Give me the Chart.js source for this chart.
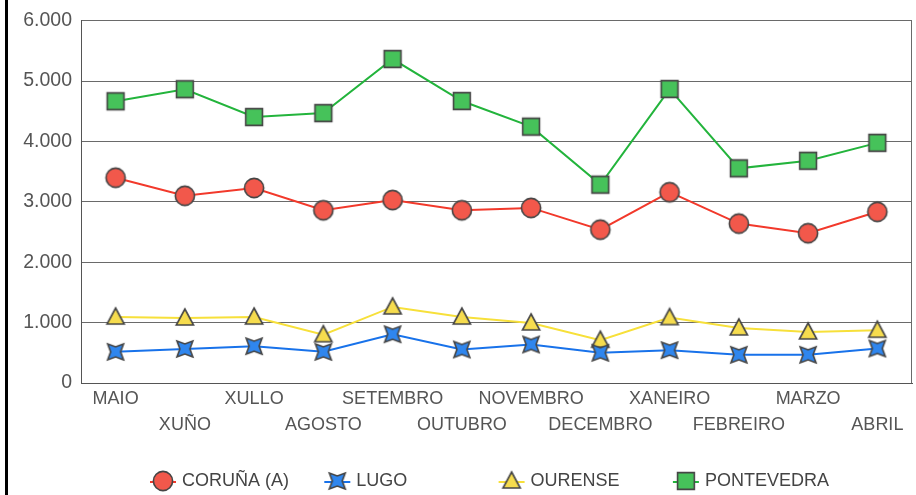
<!DOCTYPE html>
<html>
<head>
<meta charset="utf-8">
<script src="https://cdn.jsdelivr.net/npm/chart.js@4/dist/chart.umd.min.js"></script>
<style>
  html, body { margin: 0; padding: 0; background: #fff; }
  #wrap { position: absolute; left: 5px; top: 0; width: 908px; height: 495px; border-left: 3px solid #000; }
</style>
</head>
<body>
<div id="wrap"><canvas id="chart" width="908" height="495"></canvas></div>
<script>
var months = ["MAIO", "XUÑO", "XULLO", "AGOSTO", "SETEMBRO", "OUTUBRO", "NOVEMBRO", "DECEMBRO", "XANEIRO", "FEBREIRO", "MARZO", "ABRIL"];
var coruna = [3400, 3100, 3230, 2860, 3030, 2860, 2900, 2540, 3160, 2640, 2480, 2835];
var lugo = [516, 565, 610, 516, 808, 555, 638, 500, 544, 467, 467, 572];
var ourense = [1093, 1077, 1093, 800, 1260, 1093, 995, 709, 1083, 912, 846, 874];
var pontevedra = [4665, 4865, 4405, 4470, 5365, 4670, 4245, 3285, 4868, 3555, 3680, 3977];
var yTicks = [0, 1000, 2000, 3000, 4000, 5000, 6000];

// alternate the month labels on two rows
var xLabels = months.map(function(m, i) { return i % 2 ? ["", m] : [m]; });

var markEdge = "#454545";

function marker(kind, fill) {
    var c = document.createElement("canvas");
    c.width = 24; c.height = 24;
    var g = c.getContext("2d");
    var cx = 12, cy = 12;
    g.fillStyle = fill;
    g.strokeStyle = markEdge;
    g.lineWidth = 1.6;
    g.beginPath();
    if (kind == "circle") {
        g.arc(cx, cy, 9.6, 0, Math.PI * 2);
    } else if (kind == "square") {
        g.rect(cx - 8.4, cy - 8.4, 16.8, 16.8);
    } else if (kind == "triangle") {
        g.moveTo(cx, cy - 9);
        g.lineTo(cx + 8.6, cy + 7);
        g.lineTo(cx - 8.6, cy + 7);
        g.closePath();
    } else {
        // four pointed star, points on the diagonals
        var R = 11.2, r = 5;
        for (var i = 0; i < 8; i++) {
            var a = Math.PI / 4 + i * Math.PI / 4;
            var rr = i % 2 ? r : R;
            var px = cx + Math.cos(a) * rr, py = cy + Math.sin(a) * rr;
            if (i == 0) g.moveTo(px, py); else g.lineTo(px, py);
        }
        g.closePath();
    }
    g.fill();
    g.stroke();
    return c;
}

var redDot = marker("circle", "#F2584B");
var blueStar = marker("star", "#2F86EE");
var yellowTri = marker("triangle", "#F6DC4E");
var greenSq = marker("square", "#46C25A");

function series(label, values, line, img) {
    return {
        label: label,
        data: values,
        borderColor: line,
        backgroundColor: line,
        borderWidth: 2,
        pointStyle: img,
        pointRadius: 10,
        pointHoverRadius: 10,
        tension: 0
    };
}

// legend on fixed columns with the line through the marker
var columnLegend = {
    id: "columnLegend",
    afterDraw: function(chart) {
        var ctx = chart.ctx;
        var y = chart.height - 14;
        ctx.save();
        ctx.font = "18px 'Liberation Sans', Arial, sans-serif";
        ctx.fillStyle = "#444";
        ctx.textBaseline = "middle";
        chart.data.datasets.forEach(function(ds, i) {
            var x = 155 + i * 174.3;
            ctx.strokeStyle = ds.borderColor;
            ctx.lineWidth = 2;
            ctx.beginPath();
            ctx.moveTo(x - 13, y + 1);
            ctx.lineTo(x + 13, y + 1);
            ctx.stroke();
            ctx.drawImage(ds.pointStyle, x - 12, y - 12);
            ctx.fillText(ds.label, x + 19, y);
        });
        ctx.restore();
    }
};

var frame = {
    id: "frame",
    beforeDatasetsDraw: function(chart) {
        var a = chart.chartArea, ctx = chart.ctx;
        ctx.save();
        ctx.strokeStyle = "#6a6a6a";
        ctx.lineWidth = 1;
        ctx.beginPath();
        ctx.moveTo(Math.round(a.right) - 0.5, a.top);
        ctx.lineTo(Math.round(a.right) - 0.5, a.bottom);
        ctx.stroke();
        ctx.restore();
    }
};

var ctx = document.getElementById("chart").getContext("2d");
window.myLine = new Chart(ctx, {
    type: "line",
    data: {
        labels: xLabels,
        datasets: [
            series("CORUÑA (A)", coruna, "#F2392B", redDot),
            series("LUGO", lugo, "#1872EA", blueStar),
            series("OURENSE", ourense, "#F7E03A", yellowTri),
            series("PONTEVEDRA", pontevedra, "#23B43C", greenSq)
        ]
    },
    options: {
        responsive: false,
        animation: false,
        layout: { autoPadding: false, padding: { top: 9, right: 4, left: 0, bottom: 0 } },
        plugins: {
            legend: { display: false },
            tooltip: { enabled: false }
        },
        scales: {
            x: {
                offset: true,
                grid: { display: false, drawTicks: false },
                border: { display: true, color: "#555", width: 1 },
                ticks: {
                    autoSkip: false,
                    maxRotation: 0,
                    padding: 3,
                    color: "#555",
                    font: { family: "'Liberation Sans', Arial, sans-serif", size: 18, lineHeight: 1.45 }
                },
                afterFit: function(scale) {
                    scale.height = 112;
                    scale.paddingLeft = 0;
                    scale.paddingRight = 0;
                }
            },
            y: {
                min: 0,
                max: 6000,
                afterBuildTicks: function(scale) {
                    scale.ticks = yTicks.map(function(v) { return { value: v }; });
                },
                grid: { color: "#6a6a6a", lineWidth: 1, drawTicks: false },
                border: { display: true, color: "#555", width: 1 },
                ticks: {
                    padding: 9,
                    color: "#555",
                    font: { family: "'Liberation Sans', Arial, sans-serif", size: 19.5 },
                    callback: function(v) { return String(v).replace(/\B(?=(\d{3})+(?!\d))/g, "."); }
                },
                afterFit: function(scale) { scale.width = 73; }
            }
        }
    },
    plugins: [frame, columnLegend]
});
</script>
</body>
</html>
